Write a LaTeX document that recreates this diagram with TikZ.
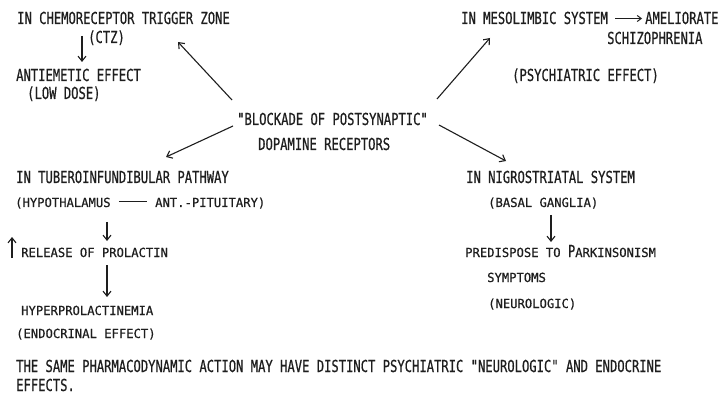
\documentclass[tikz,border=0pt]{standalone}
\usepackage{fontspec}
\newfontfamily\bigff{DejaVu Sans Mono}[FakeStretch=0.738, FakeBold=0.6]
\newfontfamily\smf{DejaVu Sans Mono}[FakeStretch=0.975, FakeBold=0.6]
\usetikzlibrary{arrows.meta}
\definecolor{ink}{HTML}{1E1E1E}
\newcommand{\bigtxt}{\bigff\fontsize{16.5}{18}\selectfont}
\tikzset{
  big/.style={anchor=base west, inner sep=0pt, text=ink, font=\bigtxt},
  sm/.style={anchor=base west, inner sep=0pt, text=ink, font=\smf\fontsize{12.5}{14}\selectfont},
  arr/.style={draw=ink, line width=1.1pt, -{Straight Barb[length=5pt,width=8pt]}},
  ln/.style={draw=ink, line width=1pt}
}
\begin{document}
\begin{tikzpicture}[x=1pt,y=-1pt]
\useasboundingbox[fill=white] (0,0) rectangle (720,398);
% left top
\node[big] (chemo) at (17,24) {IN CHEMORECEPTOR TRIGGER ZONE};
\node[big] (ctz) at (88,43) {(CTZ)};
\node[big] (anti) at (16,81) {ANTIEMETIC EFFECT};
\node[big] (low) at (27,99) {(LOW DOSE)};
% centre
\node[big] (blk) at (237,125) {"BLOCKADE OF POSTSYNAPTIC"};
\node[big] (dop) at (258,150) {DOPAMINE RECEPTORS};
% left bottom
\node[big] (tub) at (16,183) {IN TUBEROINFUNDIBULAR PATHWAY};
\node[sm] (hypo) at (15,207) {(HYPOTHALAMUS};
\node[sm] (ant) at (155,207) {ANT.-PITUITARY)};
\node[sm] (rel) at (21,257) {RELEASE OF PROLACTIN};
\node[sm] (hpl) at (21,315) {HYPERPROLACTINEMIA};
\node[sm] (endo) at (16,338) {(ENDOCRINAL EFFECT)};
% right top
\node[big] (meso) at (461,24) {IN MESOLIMBIC SYSTEM};
\node[big] (amel) at (645,24) {AMELIORATE};
\node[big] (schizo) at (607,44) {SCHIZOPHRENIA};
\node[big] (psy) at (512,81) {(PSYCHIATRIC EFFECT)};
% right bottom
\node[big] (nigro) at (466,183) {IN NIGROSTRIATAL SYSTEM};
\node[sm] (basal) at (488,207) {(BASAL GANGLIA)};
\node[sm] (pred) at (465,257) {PREDISPOSE TO {\bigtxt P}ARKINSONISM};
\node[sm] (symp) at (487,282) {SYMPTOMS};
\node[sm] (neuro) at (488,308) {(NEUROLOGIC)};
% bottom note
\node[big] (same) at (16,372) {THE SAME PHARMACODYNAMIC ACTION MAY HAVE DISTINCT PSYCHIATRIC "NEUROLOGIC" AND ENDOCRINE};
\node[big] (eff) at (16,391) {EFFECTS.};
% arrow end points
\coordinate (c1s) at (82,36);   \coordinate (c1e) at (82,62);
\coordinate (c2s) at (232,100); \coordinate (c2e) at (178,42);
\coordinate (c3s) at (233,126); \coordinate (c3e) at (166,157);
\coordinate (c4s) at (437,99);  \coordinate (c4e) at (490,38);
\coordinate (c5s) at (439,125); \coordinate (c5e) at (506,161);
\coordinate (c7s) at (107,222); \coordinate (c7e) at (107,241);
\coordinate (c8s) at (12,258);  \coordinate (c8e) at (12,237);
\coordinate (c9s) at (107,265); \coordinate (c9e) at (107,297);
\coordinate (c10s) at (551,215); \coordinate (c10e) at (551,242);
% connectors
\draw[arr] (c1s) -- (c1e);
\draw[arr] (c2s) -- (c2e);
\draw[arr] (c3s) -- (c3e);
\draw[arr] (c4s) -- (c4e);
\draw[arr] (c5s) -- (c5e);
\draw[draw=ink, line width=1pt, -{Straight Barb[length=4pt,width=6pt]}, shorten <=7pt, shorten >=3pt] ([yshift=5.5pt]meso.base east) -- ([yshift=5.5pt]amel.base west);
\draw[ln, shorten <=8pt, shorten >=8pt] ([yshift=5pt]hypo.base east) -- ([yshift=5pt]ant.base west);
\draw[arr] (c7s) -- (c7e);
\draw[arr] (c8s) -- (c8e);
\draw[arr] (c9s) -- (c9e);
\draw[arr] (c10s) -- (c10e);
\end{tikzpicture}
\end{document}
